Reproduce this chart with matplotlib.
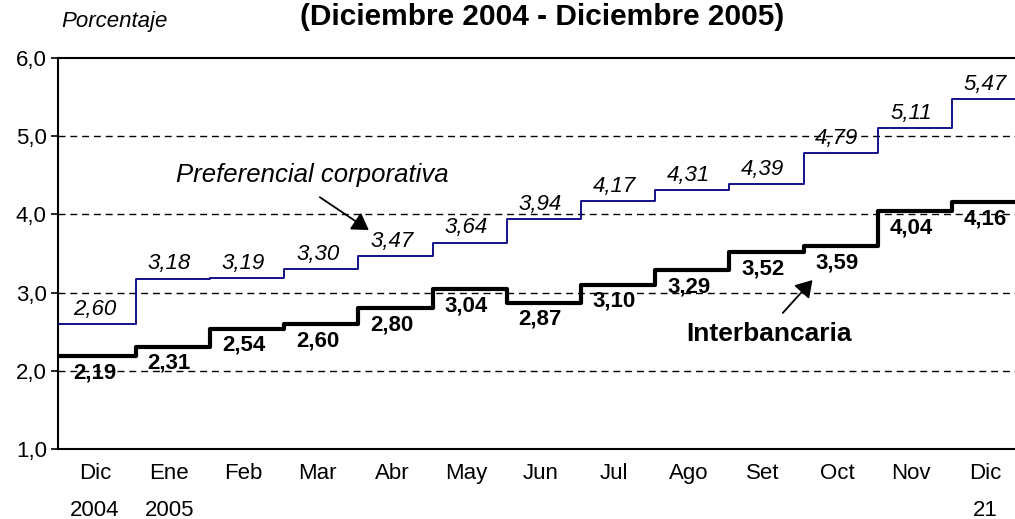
import matplotlib
matplotlib.use("Agg")
import matplotlib.pyplot as plt
import numpy as np

plt.rcParams['font.family'] = ['Liberation Sans', 'DejaVu Sans']

# datos mensuales (promedios)
meses = ['Dic\n2004', 'Ene\n2005', 'Feb', 'Mar', 'Abr', 'May', 'Jun',
         'Jul', 'Ago', 'Set', 'Oct', 'Nov', 'Dic\n21']
preferencial = [2.60, 3.18, 3.19, 3.30, 3.47, 3.64, 3.94, 4.17, 4.31, 4.39, 4.79, 5.11, 5.47]
interbancaria = [2.19, 2.31, 2.54, 2.60, 2.80, 3.04, 2.87, 3.10, 3.29, 3.52, 3.59, 4.04, 4.16]

def coma(v, dec=2):
    return ('{0:.%df}' % dec).format(v).replace('.', ',')

fig = plt.figure(figsize=(10.15, 5.19), dpi=100)
ax = fig.add_axes([0.0571, 0.1349, 0.9429, 0.7533])

xmin, xmax = -0.05, 12.85
n = len(meses)
x_steps = np.r_[xmin, np.arange(1, n), xmax]

# grilla punteada
for g in [2, 3, 4, 5]:
    ax.axhline(g, color='black', lw=1.0, dashes=(5, 3.5), zorder=1)

ax.plot(x_steps, np.r_[preferencial, preferencial[-1]], drawstyle='steps-post',
        color='#000080', lw=1.3, zorder=3)
ax.plot(x_steps, np.r_[interbancaria, interbancaria[-1]], drawstyle='steps-post',
        color='black', lw=3.0, zorder=3)

pos = np.arange(n) + 0.45
for i in range(n):
    ax.annotate(coma(preferencial[i]), (pos[i], preferencial[i]), xytext=(0, 10.5),
                textcoords='offset points', ha='center', va='center',
                fontsize=16, style='italic', zorder=4)
    ax.annotate(coma(interbancaria[i]), (pos[i], interbancaria[i]), xytext=(0, -12),
                textcoords='offset points', ha='center', va='center',
                fontsize=16, fontweight='bold', zorder=4)

flecha = dict(arrowstyle='-|>,head_length=0.45,head_width=0.28', color='black',
              lw=1.3, mutation_scale=22, shrinkA=0, shrinkB=0)
ax.text(3.385, 4.50, 'Preferencial corporativa', ha='center', va='center',
        fontsize=18.5, style='italic')
ax.annotate('', xy=(4.14, 3.80), xytext=(3.48, 4.22), arrowprops=flecha)
ax.text(9.54, 2.47, 'Interbancaria', ha='center', va='center',
        fontsize=19, fontweight='bold')
ax.annotate('', xy=(10.12, 3.16), xytext=(9.72, 2.74), arrowprops=flecha)

ax.set_xlim(xmin, xmax)
ax.set_ylim(1, 6)
ax.set_yticks([1, 2, 3, 4, 5, 6])
ax.set_yticklabels([coma(v, 1) for v in [1, 2, 3, 4, 5, 6]], fontsize=16)
ax.set_xticks(pos)
ax.set_xticklabels(meses, fontsize=16)
for t in ax.get_xticklabels():
    t.set_linespacing(2.0)
ax.tick_params(axis='x', length=0, pad=10)
ax.tick_params(axis='y', length=5, width=1.2, pad=3)

ax.spines['right'].set_visible(False)
for s in ['left', 'bottom', 'top']:
    ax.spines[s].set_linewidth(1.5)

fig.text(114 / 1015, 1 - 22 / 519, 'Porcentaje', ha='center', va='center',
         fontsize=16, style='italic')
fig.text(542 / 1015, 1 - 17 / 519, '(Diciembre 2004 - Diciembre 2005)',
         ha='center', va='center', fontsize=21.5, fontweight='bold')

fig.savefig('out.png', dpi=100)
